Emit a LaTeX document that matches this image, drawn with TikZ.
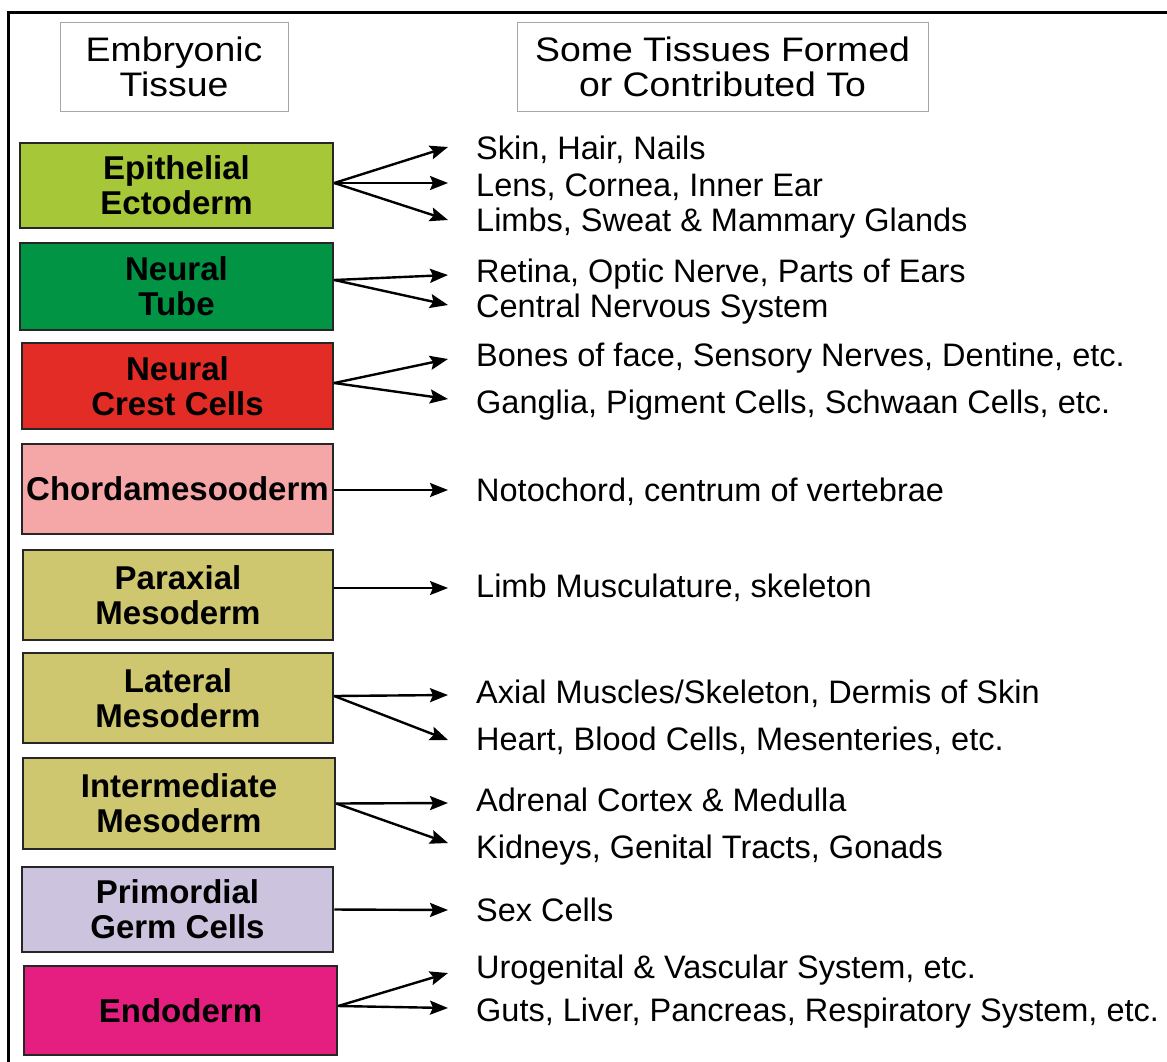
\documentclass[tikz,border=0pt]{standalone}
\usepackage{fontspec}
\setmainfont{Liberation Sans}
\newfontfamily\headfont{Liberation Sans}[FakeStretch=1.1]
\usetikzlibrary{arrows.meta}

\definecolor{ectogreen}{RGB}{166,200,56}
\definecolor{tubegreen}{RGB}{0,148,68}
\definecolor{crestred}{RGB}{228,44,38}
\definecolor{chordapink}{RGB}{245,166,166}
\definecolor{mesokhaki}{RGB}{206,199,112}
\definecolor{germlilac}{RGB}{204,195,222}
\definecolor{endomagenta}{RGB}{229,31,128}

\tikzset{
  tissue/.style={draw=black!85, line width=2.5pt, align=center, inner sep=0pt,
    font=\fontsize{33}{35}\selectfont\bfseries},
  product/.style={anchor=west, inner xsep=28pt, inner ysep=0pt, text height=23pt,
    text depth=0pt, font=\fontsize{32.5}{35}\selectfont},
  heading/.style={draw=black!35, line width=1pt, fill=white, align=center,
    minimum width=228pt, minimum height=89pt, font=\headfont\fontsize{34}{35}\selectfont},
  arr/.style={line width=2.4pt, -{Stealth[length=18pt,width=14pt,inset=3pt]}}
}

\begin{document}
\begin{tikzpicture}[x=1pt, y=-1pt]
  \useasboundingbox (0,0) rectangle (1167,1061);
  \clip (0,0) rectangle (1167,1061);
  \draw[line width=3pt] (8,12) rectangle (1200,1100);

  % column headings
  \node[heading] (hleft) at (174,67) {Embryonic\\Tissue};
  \node[heading, minimum width=411pt] (hright) at (722.5,67) {Some Tissues Formed\\or Contributed To};

  % embryonic tissues
  \foreach \n/\c/\x/\y/\w/\h/\t in {
      epi/ectogreen/176.5/185.5/313/85/{Epithelial\\Ectoderm},
      ntube/tubegreen/176.5/286.5/313/87/{Neural\\Tube},
      crest/crestred/177.5/386/311/86/{Neural\\Crest Cells},
      chorda/chordapink/177.5/489/311/90/{Chordamesooderm},
      parax/mesokhaki/178/595/310/90/{Paraxial\\Mesoderm},
      lat/mesokhaki/178/698/310/90/{Lateral\\Mesoderm},
      inter/mesokhaki/179/803.5/312/91/{Intermediate\\Mesoderm},
      germ/germlilac/177.5/909.5/311/85/{Primordial\\Germ Cells},
      endo/endomagenta/180.5/1010.5/313/89/{Endoderm}}{
    \node[tissue, fill=\c, minimum width=\w pt, minimum height=\h pt] (\n) at (\x,\y) {\t};
  }

  % tissues formed
  \foreach \n/\y/\t in {
      skin/148/{Skin, Hair, Nails},
      lens/185/{Lens, Cornea, Inner Ear},
      limbs/220/{Limbs, Sweat \& Mammary Glands},
      retina/271/{Retina, Optic Nerve, Parts of Ears},
      cns/306/{Central Nervous System},
      bones/355/{Bones of face, Sensory Nerves, Dentine, etc.},
      ganglia/402/{Ganglia, Pigment Cells, Schwaan Cells, etc.},
      noto/490/{Notochord, centrum of vertebrae},
      limbmus/586/{Limb Musculature, skeleton},
      axial/692/{Axial Muscles/Skeleton, Dermis of Skin},
      heart/739/{Heart, Blood Cells, Mesenteries, etc.},
      adrenal/800/{Adrenal Cortex \& Medulla},
      kidney/847/{Kidneys, Genital Tracts, Gonads},
      sex/910/{Sex Cells},
      uro/967/{Urogenital \& Vascular System, etc.},
      guts/1010/{Guts, Liver, Pancreas, Respiratory System, etc.}}{
    \node[product] (\n) at (448,\y) {\t};
  }

  % arrows (start and end offsets downwards)
  \foreach \a/\s/\b/\e in {epi/-2.5/skin/-1, epi/-2.5/lens/-2, epi/-2.5/limbs/0,
      ntube/-6.5/retina/4, ntube/-6.5/cns/-1, crest/-3/bones/4, crest/-3/ganglia/-3,
      chorda/1/noto/0, parax/-7/limbmus/2, lat/-2/axial/3, lat/-2/heart/1,
      inter/0/adrenal/3, inter/0/kidney/-4, germ/0/sex/0, endo/-4.5/uro/6,
      endo/-4.5/guts/-2}{
    \draw[arr] ([shift={(0,\s)}]\a.east) -- ([shift={(0,\e)}]\b.west);
  }
\end{tikzpicture}
\end{document}
